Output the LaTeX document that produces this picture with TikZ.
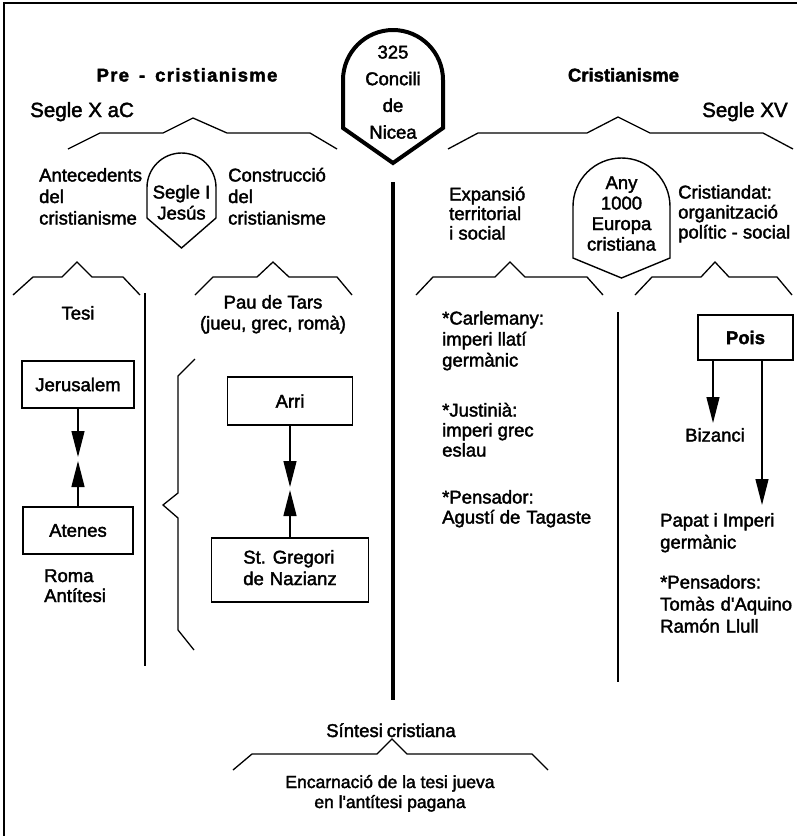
\documentclass[tikz,border=0pt]{standalone}
\usepackage{fontspec}
\setmainfont[FakeBold=2]{Liberation Sans}
\usetikzlibrary{arrows.meta}
% stacked lines whose baseline is the first line
\newcommand\textlines[2]{\begin{tabular}[t]{@{}#1@{}}#2\end{tabular}}
\newcommand\boxlines[2]{\begin{tabular}{@{}#1@{}}#2\end{tabular}}

\begin{document}
\begin{tikzpicture}[x=1pt,y=-1pt,
  every node/.style={inner sep=0pt},
  txt/.style={font=\fontsize{18.5}{#1}\selectfont},
  txt/.default=21,
  bigtxt/.style={font=\fontsize{20.5}{24}\selectfont},
  head/.style={font=\fontsize{18.5}{21}\selectfont\bfseries},
  box/.style={draw, line width=1.4pt, font=\fontsize{18.5}{21.5}\selectfont},
  frameln/.style={line width=1.5pt},
  outline/.style={line width=1.4pt, line join=miter},
  brace/.style={line width=1.3pt, line join=miter},
  divider/.style={line width=1.2pt},
  axisln/.style={line width=4.5pt},
  arr/.style={line width=1.3pt, -{Triangle[length=26pt,width=13pt]}}
]
\fill[white] (0,0) rectangle (807,836);
\useasboundingbox (0,0) rectangle (807,836);

% frame (top and left edges)
\draw[frameln] (4,836) -- (4,3) -- (797,3);

% ---- central council badge and the time axis
\draw[line width=4pt, line join=miter] (343,128) -- (343,80)
  arc[start angle=180, end angle=0, radius=50pt] -- (443,128) -- (393,163) -- cycle;
\node[txt=26.7, anchor=base] (nicea) at (393,58.5) {\textlines{c}{325\\Concili\\de\\Nicea}};
\coordinate (axtop) at (393,182);
\coordinate (axbot) at (393,700);
\draw[axisln] (axtop) -- (axbot);

% ---- headings
\node[head, anchor=base] (pre) at (187,81.5) {\addfontfeature{LetterSpace=7}Pre\hspace{10pt}-\hspace{10pt}cristianisme};
\node[head, anchor=base] (cris) at (623.5,81.5) {Cristianisme};
\node[bigtxt, anchor=base west] (sx) at (30,117) {Segle X aC};
\node[bigtxt, anchor=base west] (sxv) at (702,117) {Segle XV};

% ---- upper braces
\draw[brace] (68,149) -- (100,133) -- (163,133) -- (193,118) -- (227,133) -- (310,133) -- (337,149);
\draw[brace] (448,149) -- (478,133) -- (587,133) -- (618,117) -- (650,133) -- (763,133) -- (793,149);

% ---- left half, second level
\draw[outline] (147,218) -- (147,187.5)
  arc[start angle=180, end angle=0, radius=34.5pt] -- (216,218) -- (181.5,248) -- cycle;
\node[txt, anchor=base] (jesus) at (181.5,198.5) {\textlines{c}{Segle I\\Jesús}};
\node[txt=21.5, anchor=base west] (ante) at (39,181.5) {\textlines{l}{Antecedents\\del\\cristianisme}};
\node[txt=21.5, anchor=base west] (cons) at (228,181.5) {\textlines{l}{Construcció\\del\\cristianisme}};

% ---- right half, second level
\draw[outline] (573,258) -- (573,206.5)
  arc[start angle=180, end angle=0, radius=48.5pt] -- (670,258) -- (621.5,278) -- cycle;
\node[txt=20.5, anchor=base] (any) at (621.5,189) {\textlines{c}{Any\\1000\\Europa\\cristiana}};
\node[txt=19.5, anchor=base west] (exp) at (449,200.5) {\textlines{l}{Expansió\\territorial\\i social}};
\node[txt=20, anchor=base west] (crd) at (678,198.5) {\textlines{l}{Cristiandat:\\organització\\polític - social}};

% ---- lower braces
\draw[brace] (13,295) -- (33,277) -- (62,277) -- (77,262) -- (92,277) -- (123,277) -- (140,295);
\draw[brace] (195,295) -- (213,277) -- (257,277) -- (273,262) -- (289,277) -- (337,277) -- (352,295);
\draw[brace] (416,295) -- (433,277) -- (495,277) -- (510,262) -- (525,277) -- (587,277) -- (603,295);
\draw[brace] (635,295) -- (652,277) -- (701,277) -- (715,262) -- (729,277) -- (777,277) -- (792,295);

% ---- column dividers and the side bracket
\draw[divider] (145,293) -- (145,666);
\draw[divider] (618,312) -- (618,682);
\draw[brace] (195,359) -- (178,376) -- (178,493) -- (163,505) -- (178,518) -- (178,630) -- (194,650);

% ---- thesis / antithesis column
\node[txt, anchor=base] (tesi) at (78,319.5) {Tesi};
\node[box, minimum width=112pt, minimum height=47pt] (jer) at (78,384.5) {Jerusalem};
\node[box, minimum width=110pt, minimum height=47pt] (ate) at (78,530.5) {Atenes};
\coordinate (jtip) at (78,457);
\coordinate (atip) at (78,461);
\draw[arr] (jer.south) -- (jtip);
\draw[arr] (ate.north) -- (atip);
\node[txt=20, anchor=base west] (roma) at (44,582) {\textlines{l}{Roma\\Antítesi}};

% ---- Paul of Tarsus column
\node[txt, anchor=base] (pau) at (273,308.5) {\textlines{c}{Pau de Tars\\(jueu, grec, romà)}};
\node[box, minimum width=125pt, minimum height=48pt] (arri) at (290,401) {Arri};
\node[box, minimum width=157pt, minimum height=64pt] (greg) at (290,570) {\boxlines{l}{St. Gregori\\de\hspace{6pt}Nazianz}};
\coordinate (rtip) at (290,487);
\coordinate (gtip) at (290,490);
\draw[arr] (arri.south) -- (rtip);
\draw[arr] (greg.north) -- (gtip);

% ---- expansion column
\node[txt, anchor=base west] (carl) at (442,324.5) {\textlines{l}{*Carlemany:\\imperi llatí\\germànic}};
\node[txt=20, anchor=base west] (just) at (442,416.5) {\textlines{l}{*Justinià:\\imperi grec\\eslau}};
\node[txt=20, anchor=base west] (agus) at (442,503.5) {\textlines{l}{*Pensador:\\Agustí de\hspace{6pt}Tagaste}};

% ---- Christendom column
\node[box, minimum width=95pt, minimum height=45pt, font=\fontsize{18.5}{21}\selectfont\bfseries] (pois) at (745.5,337.5) {Pois};
\node[txt, anchor=base] (biz) at (715,441.5) {Bizanci};
\coordinate (btip) at (713,423);
\coordinate (ptip) at (762,505);
\draw[arr] (pois.south -| btip) -- (btip);
\draw[arr] (pois.south -| ptip) -- (ptip);
\node[txt=22, anchor=base west] (papat) at (660,526.5) {\textlines{l}{Papat i Imperi\\germànic}};
\node[txt=22, anchor=base west] (pens) at (660,588.5) {\textlines{l}{*Pensadors:\\Tomàs\hspace{6pt}d\textquotesingle Aquino\\Ramón\hspace{6pt}Llull}};

% ---- synthesis
\node[txt, anchor=base] (sint) at (391,737) {Síntesi\hspace{4pt}cristiana};
\draw[brace] (233,770) -- (252,754) -- (377,754) -- (392,739) -- (407,754) -- (532,754) -- (548,770);
\node[txt=20, anchor=base, font=\fontsize{17.5}{20}\selectfont] (enc) at (390,788) {\textlines{c}{Encarnació de la tesi jueva\\en l\textquotesingle antítesi pagana}};
\end{tikzpicture}
\end{document}
